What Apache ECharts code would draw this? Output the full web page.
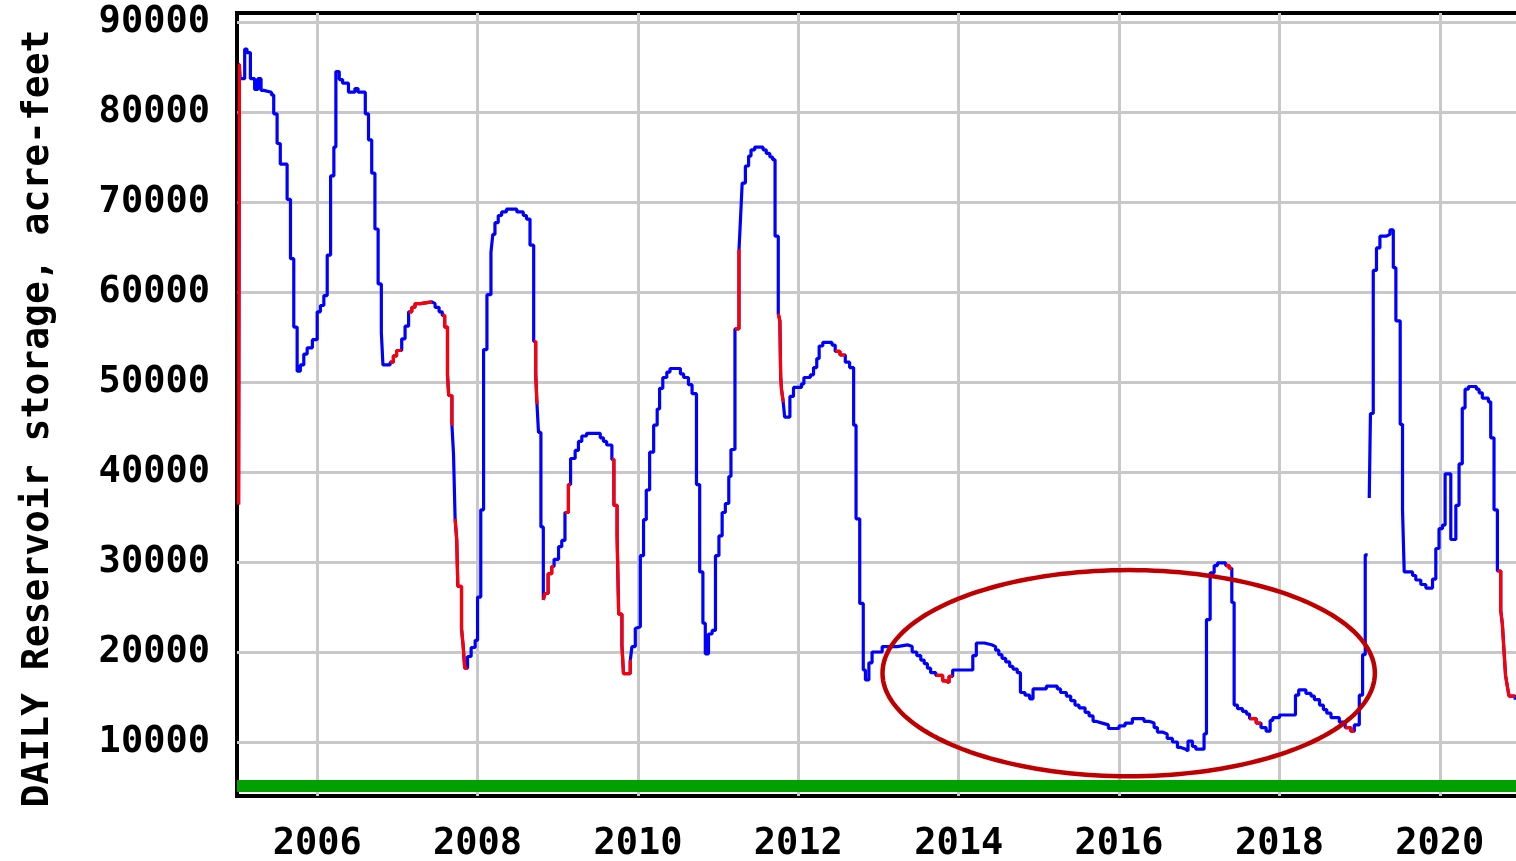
<!DOCTYPE html>
<html>
<head>
<meta charset="utf-8">
<title>Daily reservoir storage</title>
<script src="https://cdn.jsdelivr.net/npm/echarts@6/dist/echarts.min.js"></script>
<style>
html, body { margin: 0; padding: 0; background: #fff; }
#main { width: 1516px; height: 861px; }
</style>
</head>
<body>
<div id="main"></div>
<script>
// reading dates as decimal years, storage in acre-feet (null = gap in record)
var dates = [
    2005.02, 2005.03, 2005.04, 2005.096, 2005.125, 2005.167, 2005.22, 2005.26, 2005.30, 2005.333,
    2005.43, 2005.458, 2005.50, 2005.54, 2005.625, 2005.667, 2005.708, 2005.75, 2005.79, 2005.833,
    2005.875, 2005.94, 2006.0, 2006.04, 2006.083, 2006.125, 2006.167, 2006.208, 2006.233, 2006.275,
    2006.317, 2006.39, 2006.47, 2006.51, 2006.6, 2006.64, 2006.68, 2006.72, 2006.76, 2006.8,
    2006.82, 2006.91, 2006.95, 2006.99, 2007.054, 2007.096, 2007.14, 2007.18, 2007.22, 2007.29,
    2007.43, 2007.47, 2007.52, 2007.56, 2007.59, 2007.625, 2007.64, 2007.68, 2007.70, 2007.72,
    2007.74, 2007.754, 2007.80, 2007.82, 2007.84, 2007.875, 2007.92, 2007.97, 2008.0, 2008.04,
    2008.075, 2008.117, 2008.167, 2008.19, 2008.217, 2008.258, 2008.30, 2008.36, 2008.49, 2008.57,
    2008.61, 2008.654, 2008.70, 2008.725, 2008.74, 2008.76, 2008.79, 2008.82, 2008.84, 2008.88,
    2008.925, 2008.954, 2009.01, 2009.05, 2009.09, 2009.133, 2009.16, 2009.217, 2009.258, 2009.30,
    2009.36, 2009.53, 2009.57, 2009.61, 2009.675, 2009.70, 2009.74, 2009.76, 2009.80, 2009.82,
    2009.904, 2009.925, 2009.967, 2009.99, 2010.03, 2010.07, 2010.104, 2010.146, 2010.196, 2010.24,
    2010.27, 2010.31, 2010.36, 2010.40, 2010.53, 2010.57, 2010.63, 2010.675, 2010.73, 2010.77,
    2010.81, 2010.84, 2010.88, 2010.925, 2010.967, 2011.01, 2011.05, 2011.09, 2011.133, 2011.16,
    2011.21, 2011.26, 2011.28, 2011.30, 2011.34, 2011.38, 2011.41, 2011.456, 2011.56, 2011.60,
    2011.645, 2011.68, 2011.71, 2011.75, 2011.77, 2011.78, 2011.79, 2011.81, 2011.83, 2011.895,
    2011.94, 2012.04, 2012.07, 2012.15, 2012.19, 2012.23, 2012.26, 2012.305, 2012.42, 2012.46,
    2012.52, 2012.586, 2012.64, 2012.69, 2012.72, 2012.766, 2012.81, 2012.837, 2012.88, 2012.92,
    2013.046, 2013.234, 2013.36, 2013.42, 2013.477, 2013.527, 2013.57, 2013.61, 2013.65, 2013.715,
    2013.80, 2013.84, 2013.88, 2013.925, 2014.176, 2014.22, 2014.32, 2014.41, 2014.46, 2014.50,
    2014.54, 2014.586, 2014.636, 2014.677, 2014.73, 2014.77, 2014.827, 2014.885, 2014.927, 2015.093,
    2015.23, 2015.27, 2015.343, 2015.397, 2015.45, 2015.50, 2015.576, 2015.626, 2015.676, 2015.71,
    2015.79, 2015.867, 2016.0, 2016.075, 2016.166, 2016.31, 2016.374, 2016.437, 2016.478, 2016.54,
    2016.60, 2016.666, 2016.728, 2016.77, 2016.832, 2016.86, 2016.915, 2016.957, 2017.06, 2017.09,
    2017.136, 2017.186, 2017.227, 2017.33, 2017.373, 2017.406, 2017.435, 2017.477, 2017.54, 2017.59,
    2017.627, 2017.71, 2017.77, 2017.834, 2017.884, 2017.917, 2018.0, 2018.2, 2018.24, 2018.33,
    2018.394, 2018.436, 2018.50, 2018.548, 2018.59, 2018.643, 2018.747, 2018.82, 2018.89, 2018.934,
    2018.996, 2019.037, 2019.07, 2019.10, 2019.12, 2019.135, 2019.17, 2019.21, 2019.253, 2019.33,
    2019.378, 2019.42, 2019.452, 2019.506, 2019.535, 2019.556, 2019.66, 2019.70, 2019.763, 2019.826,
    2019.909, 2019.95, 2019.99, 2020.033, 2020.066, 2020.137, 2020.2, 2020.24, 2020.28, 2020.315,
    2020.357, 2020.456, 2020.49, 2020.53, 2020.606, 2020.635, 2020.676, 2020.718, 2020.76, 2020.78,
    2020.80, 2020.82, 2020.842, 2020.863, 2020.94
];
var storage = [
    36400, 85300, 83700, 87000, 86600, 83700, 82500, 83700, 82400, 82200,
    81900, 79800, 76500, 74200, 70300, 63700, 56100, 51200, 51900, 53100,
    53800, 54700, 57800, 58500, 59600, 64100, 72900, 76100, 84500, 83600,
    83200, 82200, 82600, 82200, 79800, 76900, 73200, 67000, 60900, 55500,
    51900, 52200, 52900, 53500, 54800, 56200, 57800, 58300, 58700, 58900,
    58700, 58300, 57800, 57400, 56100, 50800, 48500, 45300, 42000, 34800,
    32500, 27300, 22600, 20700, 18200, 19500, 20500, 21300, 26100, 35800,
    53600, 59700, 64400, 66400, 67700, 68500, 68900, 69200, 68900, 68500,
    68100, 65200, 54500, 50900, 47700, 44400, 33900, 25800, 26500, 28700,
    29500, 30300, 31700, 32400, 35500, 38600, 41500, 42400, 43400, 44000,
    44300, 43800, 43400, 43000, 41400, 36300, 32900, 24200, 20800, 17600,
    19000, 20600, 22600, 22800, 30700, 34700, 38000, 42200, 45200, 47000,
    49300, 50500, 51100, 51500, 50900, 50500, 49700, 48700, 38600, 28900,
    23200, 19800, 22000, 22400, 30700, 32900, 35500, 36500, 39500, 42500,
    55900, 64600, 68300, 72100, 74000, 75100, 75800, 76100, 75800, 75400,
    75000, 74700, 66200, 57600, 56800, 50600, 49200, 47900, 46100, 48400,
    49400, 49800, 50500, 50800, 51600, 52600, 54000, 54400, 54100, 53400,
    53000, 52200, 51600, 45200, 34800, 25400, 18000, 16900, 18800, 20000,
    20600, 20800, 20600, 20000, 19600, 19100, 18700, 18200, 17700, 17400,
    16800, 16600, 17300, 18000, 19600, 21000, 20800, 20600, 20200, 19700,
    19300, 18900, 18400, 18100, 17700, 15500, 15200, 14800, 15900, 16200,
    15900, 15500, 15100, 14600, 14100, 13800, 13300, 12900, 12300, 12100,
    11900, 11500, 11800, 12100, 12600, 12300, 12100, 11600, 11100, 10900,
    10400, 10000, 9400, 9200, 9000, 10100, 9500, 9200, 10900, 23600,
    28800, 29600, 29900, 29600, 29300, 25500, 14100, 13700, 13400, 13100,
    12600, 12100, 11600, 11200, 12400, 12700, 13000, 15200, 15800, 15400,
    15100, 14700, 14100, 13600, 13200, 12700, 12200, 11600, 11200, 11900,
    15200, 19700, 30800, null, 37100, 46500, 62400, 64900, 66200, 66400,
    66900, 62700, 56800, 45300, 35800, 28900, 28500, 28000, 27500, 27100,
    28100, 31500, 33700, 34100, 39800, 32500, 36300, 40900, 47100, 49200,
    49500, 49200, 48800, 48200, 47800, 43800, 35800, 29000, 24600, 23100,
    20200, 17400, 16200, 15100, 14700
];
// stretches drawn in red (provisional data)
var provisionalSpans = [
    [2005.0, 2005.035], [2006.9, 2007.0], [2007.14, 2007.29], [2007.56, 2007.59],
    [2007.62, 2007.68], [2007.72, 2007.74], [2007.754, 2007.84], [2008.70, 2008.74],
    [2008.82, 2008.84], [2008.88, 2008.925], [2009.09, 2009.133], [2009.675, 2009.904],
    [2011.21, 2011.26], [2011.75, 2011.81], [2012.46, 2012.52], [2013.715, 2013.88],
    [2017.30, 2017.373], [2017.627, 2017.71], [2018.82, 2018.89], [2020.718, 2020.863]
];
var yearTicks = [2006, 2008, 2010, 2012, 2014, 2016, 2018, 2020];
var storageTicks = [10000, 20000, 30000, 40000, 50000, 60000, 70000, 80000, 90000];
var deadPool = 5100;                            // green line
var circled = [2016.12, 17650, 3.07, 11450];    // centre year, centre value, half width (yr), half height (af)

function inSpan(d) {
    for (var k = 0; k < provisionalSpans.length; k++) {
        if (d >= provisionalSpans[k][0] && d <= provisionalSpans[k][1]) return true;
    }
    return false;
}

var mainData = dates.map(function (d, i) {
    return [d, storage[i] === null ? '-' : storage[i]];
});
var redData = dates.map(function (d, i) {
    return [d, (storage[i] !== null && inSpan(d)) ? storage[i] : '-'];
});

var labelFont = {
    fontFamily: 'DejaVu Sans Mono',
    fontWeight: 'bold',
    fontSize: 37,
    color: '#000'
};

var chart = echarts.init(document.getElementById('main'));
chart.setOption({
    animation: false,
    backgroundColor: '#fff',
    grid: {
        show: true,
        outerBoundsMode: 'none',
        left: 237, top: 13, width: 1283, bottom: 65,   // right border falls outside the page
        borderColor: '#000',
        borderWidth: 4,
        backgroundColor: '#fff'
    },
    xAxis: {
        type: 'value',
        min: 2005, max: 2021,
        axisLine: { show: false },
        axisTick: { show: false, customValues: yearTicks },
        axisLabel: Object.assign({
            customValues: yearTicks,
            margin: 30,
            formatter: function (v) { return String(v); }
        }, labelFont),
        splitLine: { show: true, lineStyle: { color: '#c8c8c8', width: 3 } }
    },
    yAxis: {
        type: 'value',
        min: 4000, max: 91000,
        name: 'DAILY Reservoir storage, acre-feet',
        nameLocation: 'middle',
        nameRotate: 90,
        nameGap: 180,
        nameTextStyle: Object.assign({}, labelFont, { fontSize: 38, padding: [0, 28, 0, 0] }),
        axisLine: { show: false },
        axisTick: { show: false, customValues: storageTicks },
        axisLabel: Object.assign({
            customValues: storageTicks,
            margin: 27,
            padding: [14, 0, 0, 0],
            formatter: function (v) { return String(v); }
        }, labelFont),
        splitLine: { show: true, lineStyle: { color: '#c8c8c8', width: 3 } }
    },
    series: [
        {
            name: 'storage',
            type: 'line',
            step: 'end',
            data: mainData,
            showSymbol: false,
            connectNulls: false,
            lineStyle: { color: '#0000ff', width: 3.2 },
            z: 3,
            markLine: {
                silent: true,
                symbol: 'none',
                label: { show: false },
                lineStyle: { color: '#00a000', width: 12, type: 'solid' },
                data: [{ yAxis: deadPool }]
            }
        },
        {
            name: 'provisional',
            type: 'line',
            step: 'end',
            data: redData,
            showSymbol: false,
            connectNulls: false,
            lineStyle: { color: '#ff0000', width: 3.2 },
            z: 4
        },
        {
            name: 'circle',
            type: 'custom',
            data: [circled],
            encode: { x: 0, y: 1 },
            clip: false,
            silent: true,
            z: 5,
            renderItem: function (params, api) {
                var c = api.coord([api.value(0), api.value(1)]);
                var s = api.size([api.value(2), api.value(3)]);
                var pts = [];
                for (var k = 0; k < 180; k++) {
                    var t = k / 180 * Math.PI * 2;
                    pts.push([c[0] + s[0] * Math.cos(t), c[1] + s[1] * Math.sin(t)]);
                }
                return {
                    type: 'polygon',
                    shape: { points: pts },
                    style: { fill: 'none', stroke: '#c00000', lineWidth: 4.5 }
                };
            }
        }
    ]
});
window.onresize = chart.resize;
</script>
</body>
</html>
